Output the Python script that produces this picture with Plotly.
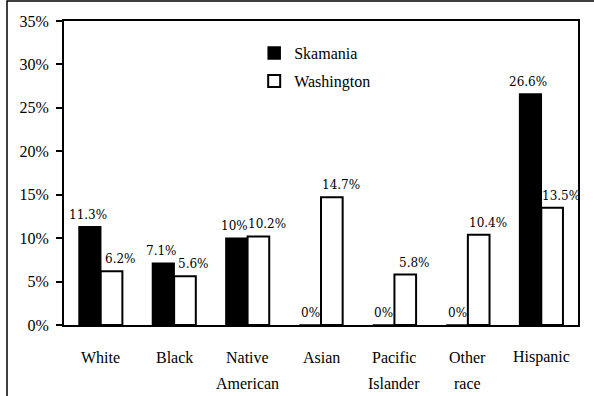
import plotly.graph_objects as go

# Population growth by race/ethnicity, Skamania County vs. Washington State
categories = ["White", "Black", "Native\nAmerican", "Asian", "Pacific\nIslander", "Other\nrace", "Hispanic"]
skamania = [11.3, 7.1, 10.0, 0.0, 0.0, 0.0, 26.6]
washington = [6.2, 5.6, 10.2, 14.7, 5.8, 10.4, 13.5]
y_ticks = [0, 5, 10, 15, 20, 25, 30, 35]


def pct(v):
    return f"{v:g}%"


SERIF = "Liberation Serif, Times New Roman, Times, serif"
label_font = dict(family="DejaVu Serif, serif", size=12, color="black")
text_font = dict(family=SERIF, size=16, color="black")

BARGAP = 0.41
half = (1 - BARGAP) / 4  # offset of each bar's centre from the category centre

x_idx = list(range(len(categories)))

fig = go.Figure()
fig.add_trace(go.Bar(
    name="Skamania", x=x_idx, y=skamania,
    marker=dict(color="black", line=dict(color="black", width=1.5)),
    legendgroup="a",
))
fig.add_trace(go.Bar(
    name="Washington", x=x_idx, y=washington,
    marker=dict(color="white", line=dict(color="black", width=2)),
    legendgroup="b",
))

annotations = []
# Value labels above each bar; the two series' labels are nudged apart
for values, side, nudge in ((skamania, -1, -2), (washington, 1, 9)):
    for i, v in enumerate(values):
        annotations.append(dict(
            x=i + side * half, y=v, xref="x", yref="y", text=pct(v),
            showarrow=False, xanchor="center", yanchor="middle",
            xshift=0 if v == 0 else nudge, yshift=12, font=label_font,
        ))

# Category labels, one annotation per line for generous line spacing
for i, cat in enumerate(categories):
    for j, line in enumerate(cat.split("\n")):
        annotations.append(dict(
            x=i, y=0, xref="x", yref="paper", text=line, showarrow=False,
            yshift=-32 - 26 * j, yanchor="middle", xanchor="center",
            font=text_font,
        ))

fig.update_layout(
    width=594, height=396,
    margin=dict(l=64, r=16, t=21, b=71),
    paper_bgcolor="white", plot_bgcolor="white",
    barmode="group", bargap=BARGAP, bargroupgap=0,
    font=text_font,
    showlegend=True,
    legend=dict(
        x=0.37, y=0.95, xanchor="left", yanchor="top",
        bgcolor="rgba(0,0,0,0)", tracegroupgap=4,
        font=text_font,
    ),
    annotations=annotations,
    shapes=[dict(
        type="rect", xref="paper", yref="paper",
        x0=(7 - 64) / 514, x1=1.5, y0=-0.8, y1=(325 - 1) / 304,
        line=dict(color="black", width=1.5), layer="below",
    )],
)

fig.update_xaxes(
    range=[-0.5, len(categories) - 0.5],
    showticklabels=False, showline=True, linecolor="black", linewidth=2,
    mirror=True, ticks="", showgrid=False, zeroline=False,
)
fig.update_yaxes(
    range=[0, 35], tickvals=y_ticks, ticktext=[pct(v) for v in y_ticks],
    tickfont=text_font,
    showline=True, linecolor="black", linewidth=2, mirror=True,
    ticks="outside", ticklen=6, tickwidth=2, tickcolor="black",
    showgrid=False, zeroline=False, ticklabelstandoff=4,
)

fig.write_html("out.html")
